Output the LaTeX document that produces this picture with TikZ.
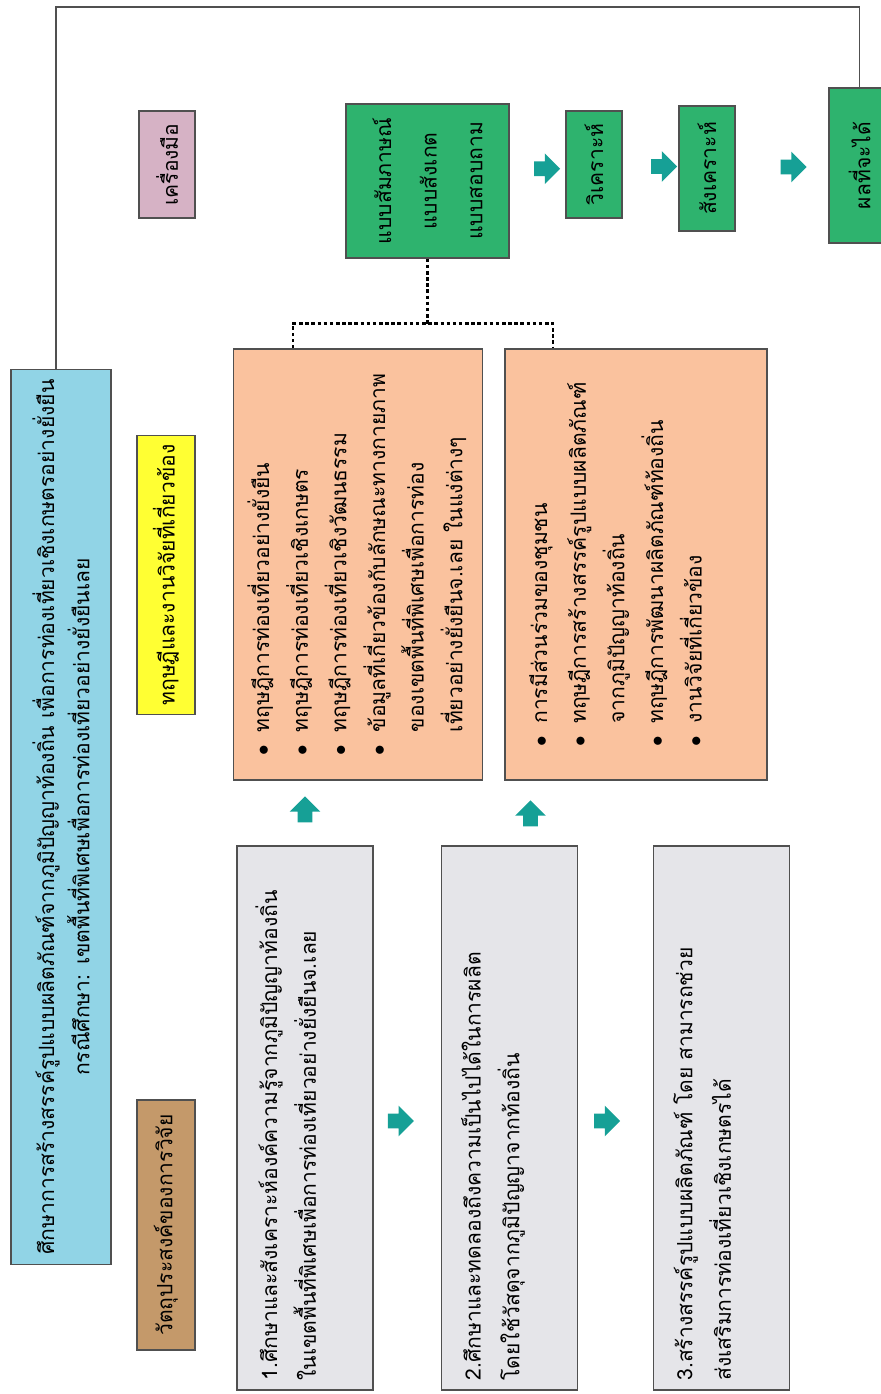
\documentclass[tikz,border=0pt]{standalone}
\usepackage{fontspec}
\setmainfont[Script=Thai]{Loma}
\usetikzlibrary{positioning, calc, shapes.arrows}
\definecolor{titleblue}{RGB}{145,212,230}
\definecolor{objbrown}{RGB}{196,153,106}
\definecolor{theoryyellow}{RGB}{255,255,51}
\definecolor{toolpink}{RGB}{214,178,197}
\definecolor{objgrey}{RGB}{229,229,233}
\definecolor{theorysalmon}{RGB}{250,194,158}
\definecolor{toolgreen}{RGB}{46,179,110}
\definecolor{arrowteal}{RGB}{22,160,150}
\definecolor{edgegrey}{RGB}{80,80,80}
\newcommand{\thaitext}{\fontsize{12}{22}\selectfont}

\begin{document}
\begin{tikzpicture}[x=0.02cm, y=-0.02cm,
    box/.style={rectangle, draw=edgegrey, line width=0.8pt, rotate=90, inner sep=5pt, font=\thaitext},
    titlebox/.style={box, fill=titleblue, align=center, minimum width=17.9cm, minimum height=2cm,
                     font=\fontsize{12}{20}\selectfont},
    lblbox/.style={box, align=center, minimum width=5cm, minimum height=1.16cm},
    objbox/.style={box, fill=objgrey, align=left, text width=10.5cm, minimum width=10.88cm, minimum height=2.72cm},
    theorybox/.style={box, fill=theorysalmon, minimum width=8.62cm},
    toolbox/.style={box, fill=toolgreen, align=center, minimum height=1.12cm},
    blockarrow/.style={single arrow, fill=arrowteal, draw=none, inner xsep=0.18cm, inner ysep=0.14cm,
                       single arrow head extend=0.16cm},
    dashline/.style={line width=1.5pt, dash pattern=on 2pt off 1.5pt},
    linkline/.style={draw=edgegrey, line width=0.8pt}
]
    \useasboundingbox (0,0) rectangle (880,1394);

    % Title
    \node[titlebox] (title) at (61,817) {ศึกษาการสร้างสรรค์รูปแบบผลิตภัณฑ์จากภูมิปัญญาท้องถิ่น เพื่อการท่องเที่ยวเชิงเกษตรอย่างยั่งยืน\\กรณีศึกษา: เขตพื้นที่พิเศษเพื่อการท่องเที่ยวอย่างยั่งยืนเลย};

    % Row labels
    \node[lblbox, fill=objbrown] (lblobj) at (166,1225) {วัตถุประสงค์ของการวิจัย};
    \node[lblbox, fill=theoryyellow, minimum width=5.2cm] (lbltheory) at (166,575) {ทฤษฎีและงานวิจัยที่เกี่ยวข้อง};
    \node[lblbox, fill=toolpink, minimum width=2.14cm, minimum height=1.12cm] (lbltool) at (167,164.5) {เครื่องมือ};

    % Objectives
    \node[objbox] (obj1) at (305,1118) {1.ศึกษาและสังเคราะห์องค์ความรู้จากภูมิปัญญาท้องถิ่น\\ในเขตพื้นที่พิเศษเพื่อการท่องเที่ยวอย่างยั่งยืนจ.เลย\\ \mbox{}};
    \node[objbox] (obj2) at (509.5,1118) {2.ศึกษาและทดลองถึงความเป็นไปได้ในการผลิต\\โดยใช้วัสดุจากภูมิปัญญาจากท้องถิ่น\\ \mbox{}};
    \node[objbox] (obj3) at (721.5,1118) {3.สร้างสรรค์รูปแบบผลิตภัณฑ์ โดย สามารถช่วย\\ส่งเสริมการท่องเที่ยวเชิงเกษตรได้\\ \mbox{}};

    % Theories
    \node[theorybox, minimum height=4.84cm] (theory1) at (358,564.5) {\begin{tabular}{@{}l@{\hspace{0.6em}}l@{}}
        $\bullet$ & ทฤษฎีการท่องเที่ยวอย่างยั่งยืน\\
        $\bullet$ & ทฤษฎีการท่องเที่ยวเชิงเกษตร\\
        $\bullet$ & ทฤษฎีการท่องเที่ยวเชิงวัฒนธรรม\\
        $\bullet$ & ข้อมูลที่เกี่ยวข้องกับลักษณะทางกายภาพ\\
                  & ของเขตพื้นที่พิเศษเพื่อการท่อง\\
                  & เที่ยวอย่างยั่งยืนจ.เลย ในแง่ต่างๆ
    \end{tabular}};
    \node[theorybox, minimum height=5.24cm] (theory2) at (636,564.5) {\begin{tabular}{@{}l@{\hspace{0.6em}}l@{}}
        $\bullet$ & การมีส่วนร่วมของชุมชน\\
        $\bullet$ & ทฤษฎีการสร้างสรรค์รูปแบบผลิตภัณฑ์\\
                  & จากภูมิปัญญาท้องถิ่น\\
        $\bullet$ & ทฤษฎีการพัฒนาผลิตภัณฑ์ท้องถิ่น\\
        $\bullet$ & งานวิจัยที่เกี่ยวข้อง\\
                  & \mbox{}
    \end{tabular}};

    % Tools
    \node[toolbox, minimum width=3.08cm, minimum height=3.26cm, font=\fontsize{12}{26}\selectfont] (tools) at (427.5,181) {แบบสัมภาษณ์\\แบบสังเกต\\แบบสอบถาม};
    \node[toolbox, minimum width=2.14cm] (analyse) at (594,164.5) {วิเคราะห์};
    \node[toolbox, minimum width=2.5cm] (synth) at (707,168.5) {สังเคราะห์};
    \node[toolbox, minimum width=3.1cm, minimum height=1.22cm] (result) at (859.5,165.5) {ผลที่จะได้};

    % Block arrows
    \node[blockarrow] (a1) at ($(obj1.south)!0.5!(obj2.north)+(-10,3)$) {};
    \node[blockarrow] (a2) at ($(obj2.south)!0.5!(obj3.north)+(-12,3)$) {};
    \node[blockarrow, rotate=90] (u1) at ($(obj1.east)!0.5!(obj1.east |- theory1.west)$) {};
    \node[blockarrow, rotate=90] (u2) at ($(obj2.east)!0.5!(obj2.east |- theory2.west)+(21,4)$) {};
    \node[blockarrow] (t1) at ($(tools.south)!0.5!(analyse.north)+(6,-4)$) {};
    \node[blockarrow] (t2) at ($(analyse.south)!0.5!(synth.north)+(10,0)$) {};
    \node[blockarrow] (t3) at ($(synth.south)!0.5!(result.north)+(8,0)$) {};

    % Connections
    \draw[dashline] (tools.west) -- ++(0,65) coordinate (split);
    \draw[dashline] ($(theory1.east)+(-65,0)$) |- (split) -| ($(theory2.east)+(-83,0)$);
    \draw[linkline] ($(title.east)+(-5,0)$) -- ($(title.east |- 0,7)+(-5,0)$) -| (result.east);
\end{tikzpicture}
\end{document}
